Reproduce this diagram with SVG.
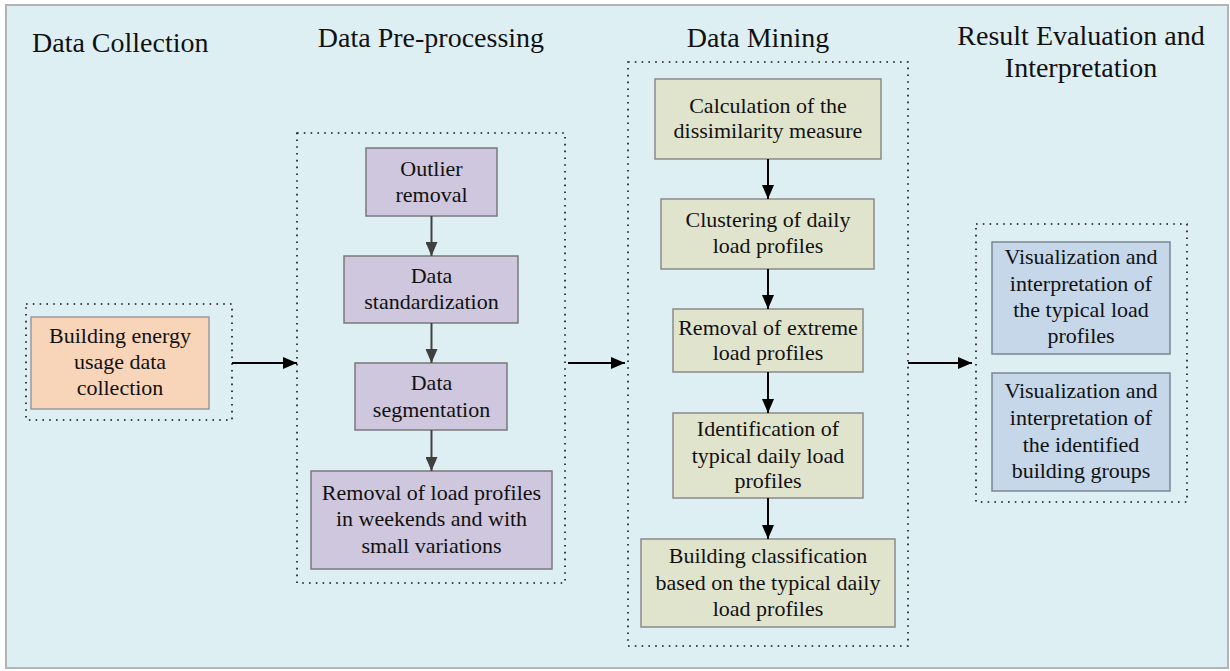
<svg xmlns="http://www.w3.org/2000/svg" width="1230" height="671" viewBox="0 0 1230 671">
<style>
text{font-family:"Liberation Serif","Times New Roman",serif;fill:#111;}
.title{font-size:28px;}
.lbl{font-size:22px;text-anchor:middle;}
.dot{fill:none;stroke:#111;stroke-width:1.6;stroke-dasharray:1.6 5.2;}
.orange{fill:#f8d5b9;stroke:#9a9a9a;stroke-width:1.5;}
.purple{fill:#cfc7dd;stroke:#7a7a7a;stroke-width:1.5;}
.green{fill:#e1e4cd;stroke:#8a8a8a;stroke-width:1.5;}
.blue{fill:#c5d7e9;stroke:#7a8694;stroke-width:1.5;}
.ab{stroke:#000;stroke-width:2;fill:none;}
.ag{stroke:#404040;stroke-width:2;fill:none;}
</style>
<defs>
<marker id="mb" viewBox="0 0 14 12" refX="14" refY="6" markerWidth="14" markerHeight="12" markerUnits="userSpaceOnUse" orient="auto">
<path d="M0,0 L14,6 L0,12 Z" fill="#000"/>
</marker>
<marker id="mg" viewBox="0 0 14 12" refX="14" refY="6" markerWidth="14" markerHeight="12" markerUnits="userSpaceOnUse" orient="auto">
<path d="M0,0 L14,6 L0,12 Z" fill="#404040"/>
</marker>
</defs>
<rect x="6" y="5" width="1222" height="663" fill="#deeff4" stroke="#b3b3b3" stroke-width="2"/>
<g id="titles">
<text class="title" x="32" y="52">Data Collection</text>
<text class="title" x="431" y="47" text-anchor="middle">Data Pre-processing</text>
<text class="title" x="758" y="47" text-anchor="middle">Data Mining</text>
<text class="title" x="1081" y="45" text-anchor="middle">Result Evaluation and</text>
<text class="title" x="1081" y="77" text-anchor="middle">Interpretation</text>
</g>
<g id="groups">
<rect class="dot" x="26" y="304" width="206" height="116"/>
<rect class="dot" x="297" y="133" width="268" height="450"/>
<rect class="dot" x="628" y="62" width="280" height="584"/>
<rect class="dot" x="976" y="224" width="211" height="278"/>
</g>
<g id="n-collect">
<rect class="orange" x="31" y="317" width="178" height="92"/>
<text class="lbl" x="120" y="343">Building energy</text>
<text class="lbl" x="120" y="369">usage data</text>
<text class="lbl" x="120" y="395">collection</text>
</g>
<g id="n-outlier">
<rect class="purple" x="366" y="148" width="131" height="68"/>
<text class="lbl" x="431.5" y="176">Outlier</text>
<text class="lbl" x="431.5" y="202">removal</text>
</g>
<g id="n-standard">
<rect class="purple" x="344" y="256" width="174" height="67"/>
<text class="lbl" x="431.5" y="283">Data</text>
<text class="lbl" x="431.5" y="309">standardization</text>
</g>
<g id="n-segment">
<rect class="purple" x="355" y="363" width="152" height="67"/>
<text class="lbl" x="431.5" y="390">Data</text>
<text class="lbl" x="431.5" y="417">segmentation</text>
</g>
<g id="n-removal">
<rect class="purple" x="311" y="471" width="241" height="98"/>
<text class="lbl" x="431.5" y="500">Removal of load profiles</text>
<text class="lbl" x="431.5" y="526">in weekends and with</text>
<text class="lbl" x="431.5" y="553">small variations</text>
</g>
<g id="n-calc">
<rect class="green" x="655" y="79" width="226" height="80"/>
<text class="lbl" x="768" y="113">Calculation of the</text>
<text class="lbl" x="768" y="138">dissimilarity measure</text>
</g>
<g id="n-cluster">
<rect class="green" x="661" y="199" width="213" height="70"/>
<text class="lbl" x="768" y="227">Clustering of daily</text>
<text class="lbl" x="768" y="253">load profiles</text>
</g>
<g id="n-extreme">
<rect class="green" x="673" y="309" width="190" height="63"/>
<text class="lbl" x="768" y="335">Removal of extreme</text>
<text class="lbl" x="768" y="360">load profiles</text>
</g>
<g id="n-ident">
<rect class="green" x="673" y="413" width="190" height="85"/>
<text class="lbl" x="768" y="436">Identification of</text>
<text class="lbl" x="768" y="463">typical daily load</text>
<text class="lbl" x="768" y="488">profiles</text>
</g>
<g id="n-classif">
<rect class="green" x="641" y="539" width="254" height="88"/>
<text class="lbl" x="768" y="563">Building classification</text>
<text class="lbl" x="768" y="590">based on the typical daily</text>
<text class="lbl" x="768" y="616">load profiles</text>
</g>
<g id="n-vis1">
<rect class="blue" x="992" y="242" width="178" height="112"/>
<text class="lbl" x="1081" y="264">Visualization and</text>
<text class="lbl" x="1081" y="291">interpretation of</text>
<text class="lbl" x="1081" y="317">the typical load</text>
<text class="lbl" x="1081" y="343">profiles</text>
</g>
<g id="n-vis2">
<rect class="blue" x="992" y="373" width="178" height="118"/>
<text class="lbl" x="1081" y="398">Visualization and</text>
<text class="lbl" x="1081" y="425">interpretation of</text>
<text class="lbl" x="1081" y="452">the identified</text>
<text class="lbl" x="1081" y="478">building groups</text>
</g>
<g id="connectors">
<line class="ab" x1="232" y1="363" x2="297" y2="363" marker-end="url(#mb)"/>
<line class="ab" x1="568" y1="363" x2="625" y2="363" marker-end="url(#mb)"/>
<line class="ab" x1="908" y1="363" x2="972" y2="363" marker-end="url(#mb)"/>
<line class="ag" x1="431.5" y1="216" x2="431.5" y2="256" marker-end="url(#mg)"/>
<line class="ag" x1="431.5" y1="323" x2="431.5" y2="363" marker-end="url(#mg)"/>
<line class="ag" x1="431.5" y1="430" x2="431.5" y2="471" marker-end="url(#mg)"/>
<line class="ab" x1="768" y1="159" x2="768" y2="199" marker-end="url(#mb)"/>
<line class="ab" x1="768" y1="269" x2="768" y2="309" marker-end="url(#mb)"/>
<line class="ab" x1="768" y1="372" x2="768" y2="413" marker-end="url(#mb)"/>
<line class="ab" x1="768" y1="498" x2="768" y2="539" marker-end="url(#mb)"/>
</g>
</svg>
